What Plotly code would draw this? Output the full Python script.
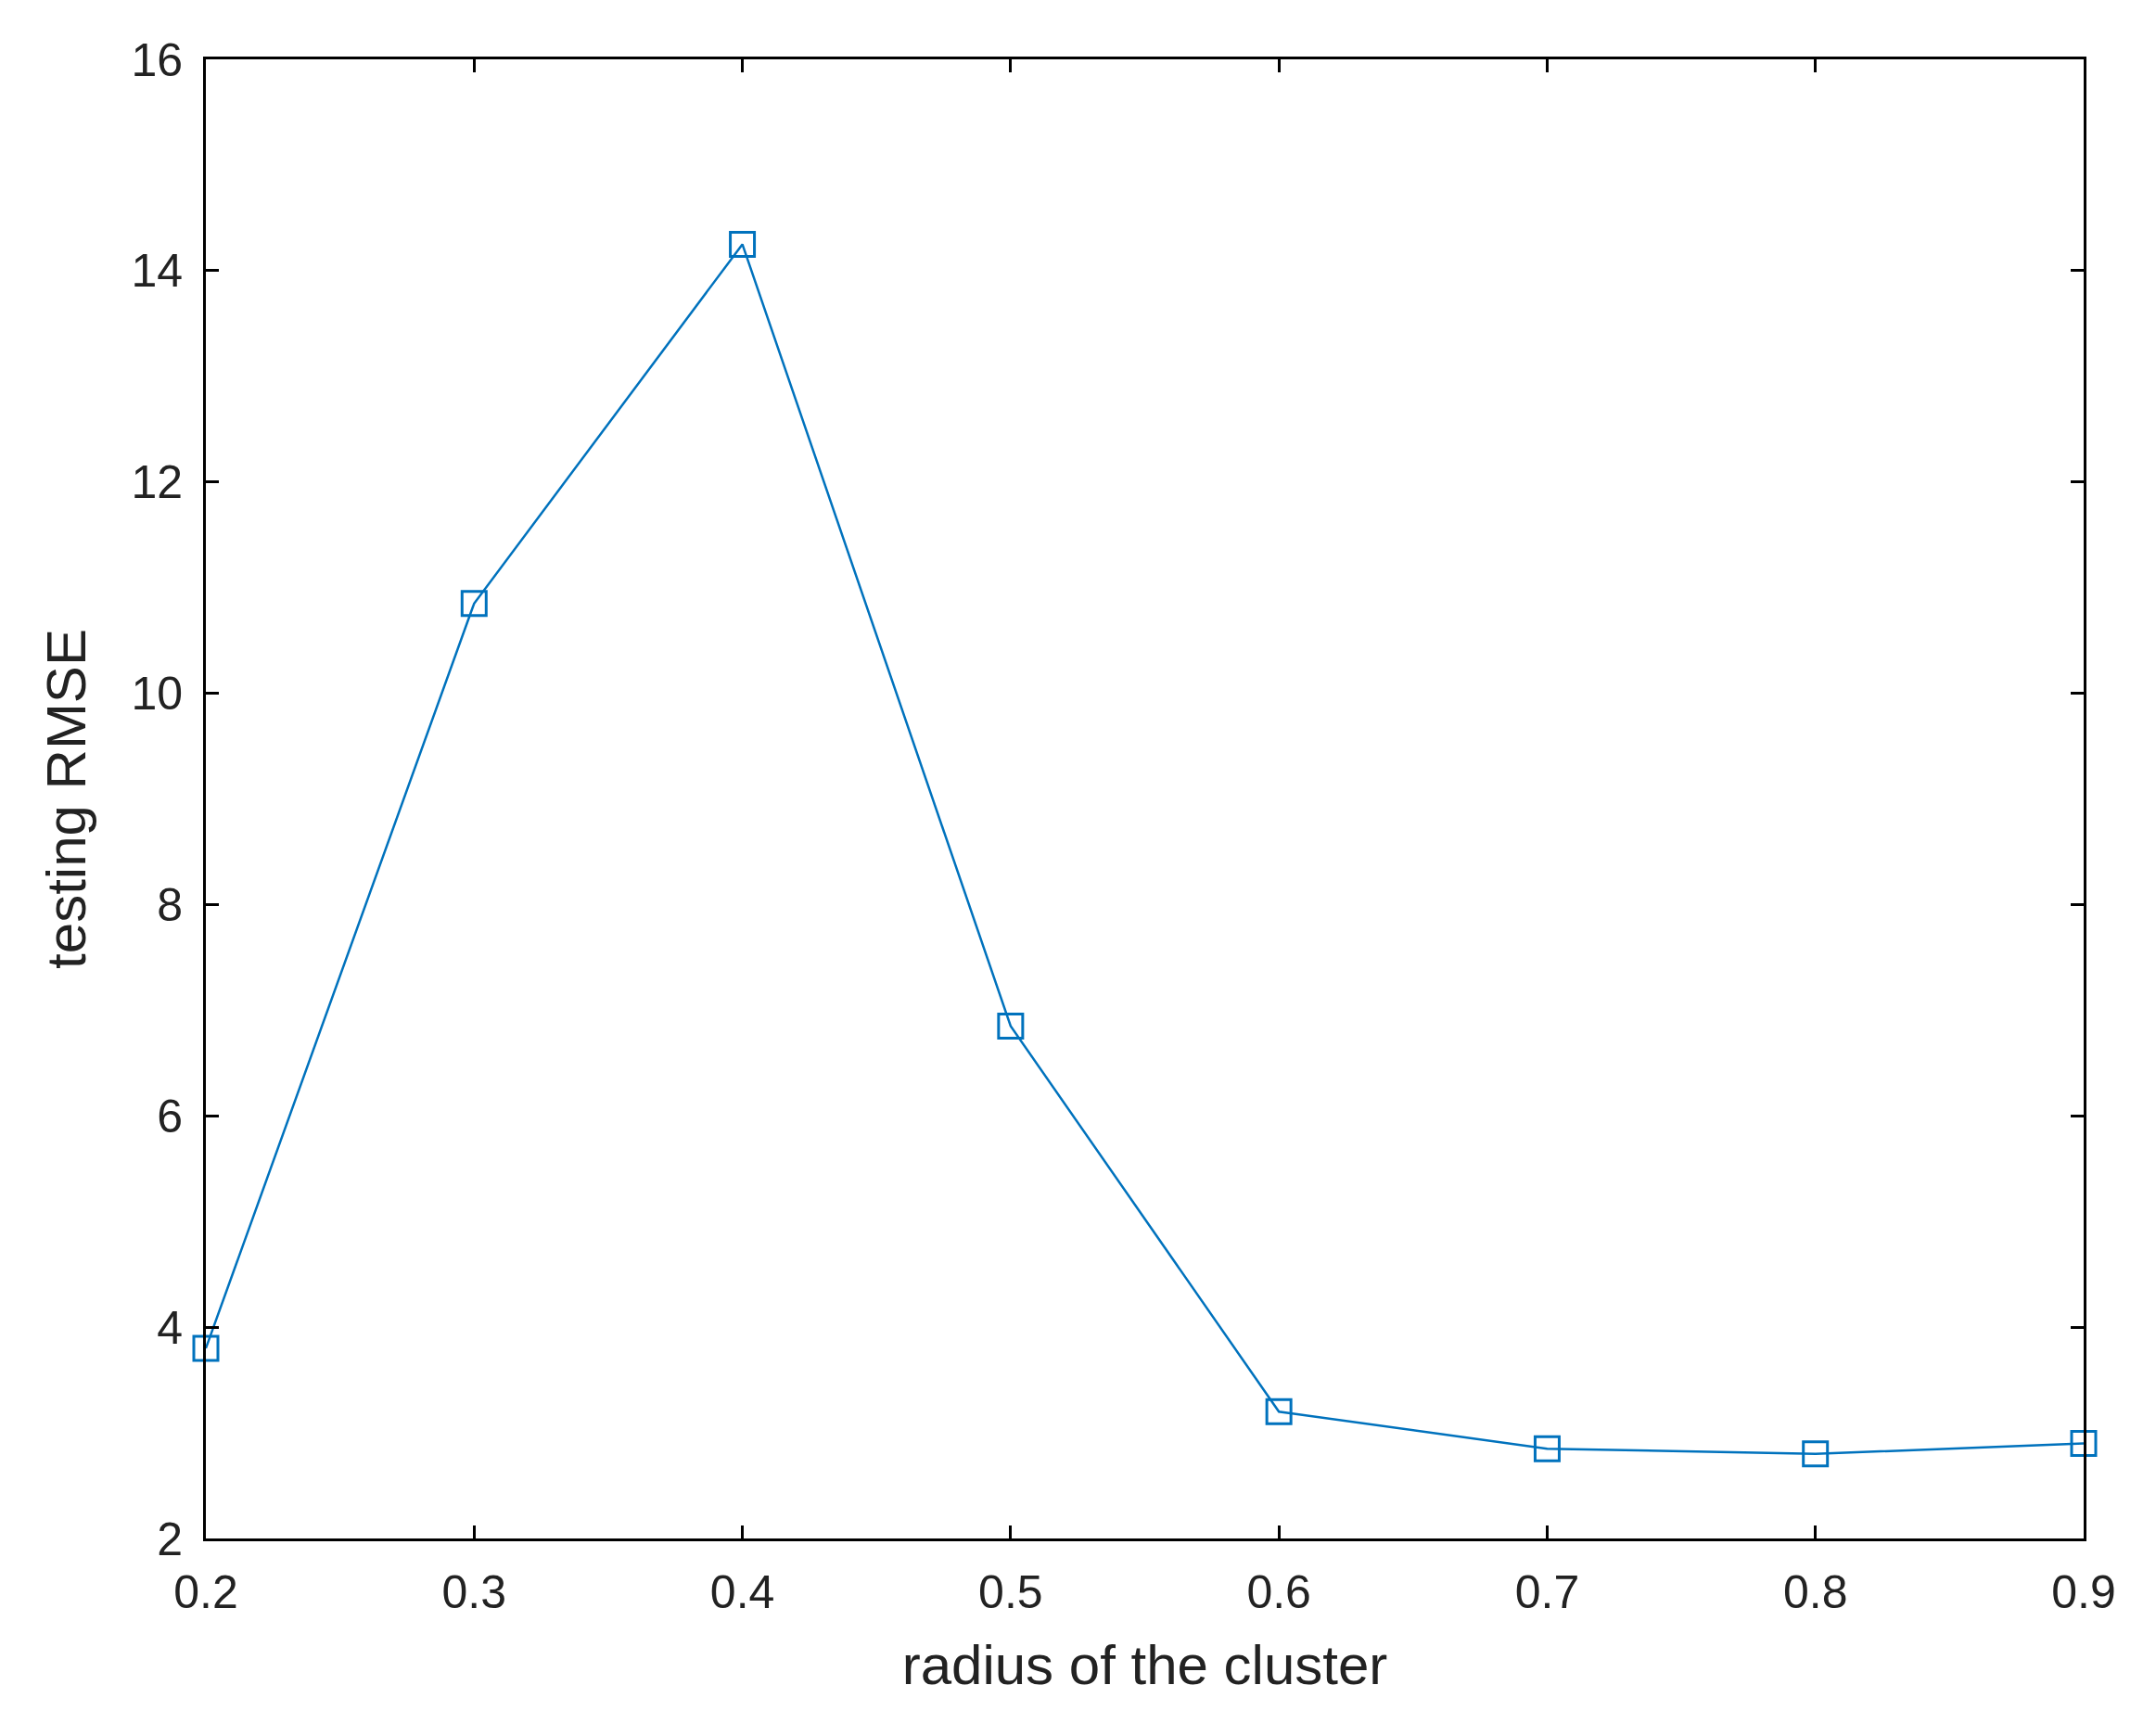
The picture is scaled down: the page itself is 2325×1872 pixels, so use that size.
import plotly.graph_objects as go

radius = [0.2, 0.3, 0.4, 0.5, 0.6, 0.7, 0.8, 0.9]
rmse = [3.8, 10.85, 14.25, 6.85, 3.2, 2.85, 2.8, 2.9]
x_ticks = [0.2, 0.3, 0.4, 0.5, 0.6, 0.7, 0.8, 0.9]
y_ticks = [2, 4, 6, 8, 10, 12, 14, 16]

fig = go.Figure(go.Scatter(
    x=radius, y=rmse, mode="lines+markers",
    line=dict(color="#0072BD", width=2.5),
    marker=dict(symbol="square-open", size=26, color="#0072BD", line=dict(width=3)),
    cliponaxis=False,
))
ax = dict(showgrid=False, zeroline=False, showline=True, linecolor="black", linewidth=3,
          mirror="ticks", ticks="inside", ticklen=14, tickwidth=3, tickcolor="black",
          ticklabelstandoff=12,
          tickfont=dict(family="Liberation Sans, Arial", size=50, color="#222"))
fig.update_xaxes(**ax, range=[0.2, 0.9], tickvals=x_ticks, ticktext=[f"{v:.1f}" for v in x_ticks],
                 title=dict(text="radius of the cluster", font=dict(family="Liberation Sans, Arial", size=60, color="#222"), standoff=30))
fig.update_yaxes(**ax, range=[2, 16], tickvals=y_ticks,
                 title=dict(text="testing RMSE", font=dict(family="Liberation Sans, Arial", size=60, color="#222"), standoff=30))
fig.update_layout(width=2325, height=1872, plot_bgcolor="white", paper_bgcolor="white",
                  margin=dict(l=214, r=86, t=56, b=221), showlegend=False)
fig.write_html("out.html")
